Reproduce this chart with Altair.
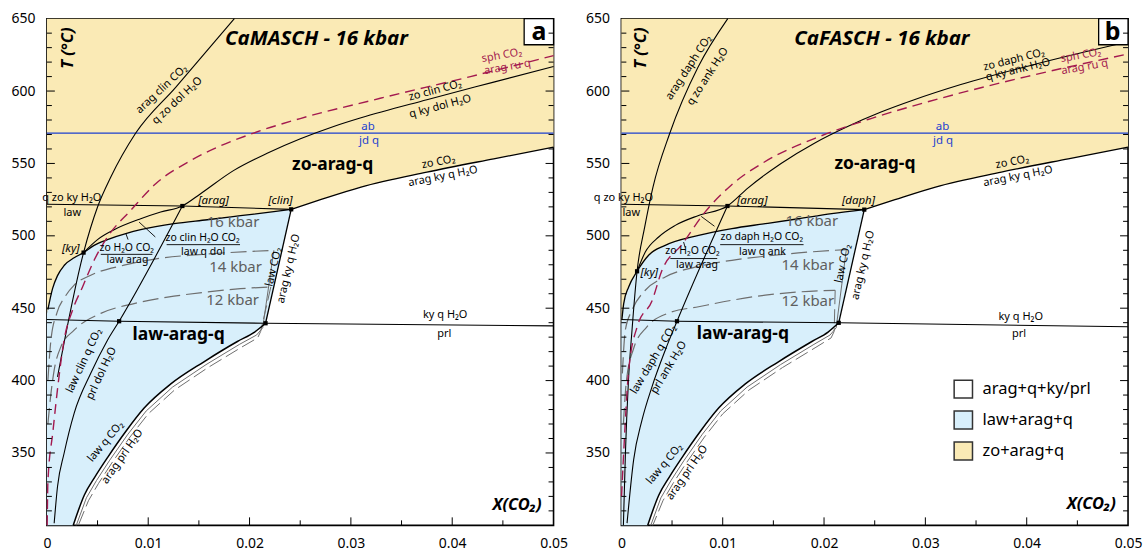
import altair as alt
import pandas as pd

FONT = "Noto Sans"
YEL = "#FAEAB5"
BLU = "#D8EFFB"
RED = "#A3194F"
ABL = "#1B3FD0"
GRY = "#6E6E6E"
W = 508
H = 508

X_DOM = [0, 0.05]
T_DOM = [300, 650]
X_LABELS = [0, 0.01, 0.02, 0.03, 0.04, 0.05]
T_LABELS = [350, 400, 450, 500, 550, 600, 650]
X_TICK_MAJOR = [0.01, 0.02, 0.03, 0.04]
X_TICK_MINOR = [0.005, 0.015, 0.025, 0.035, 0.045]
T_TICK_MAJOR = [350, 400, 450, 500, 550, 600]
T_TICK_MINOR = [310, 320, 330, 340, 360, 370, 380, 390, 410, 420, 430, 440, 460, 470, 480, 490,
                510, 520, 530, 540, 560, 570, 580, 590, 610, 620, 630, 640]

# ---------------- panel a : CaMASCH ----------------
A_B16_X = [0.0001, 0.00056, 0.00105, 0.0017, 0.00269, 0.00362, 0.00466, 0.00598, 0.00795, 0.00926,
           0.01254, 0.01583, 0.01911, 0.0224, 0.02411]
A_B16_T = [449, 463.5, 472.5, 479.5, 484.8, 488.4, 493.4, 497.4, 501.9, 504.2, 508.4, 511.1, 513.9, 516.7, 518.3]
A_UP_X = [0.02411, 0.027, 0.031, 0.0375, 0.0441, 0.05]
A_UP_T = [518.3, 525, 533.7, 544, 553.2, 561.2]
A_ZO_X = [0.00362, 0.005, 0.00663, 0.00926, 0.01123, 0.01337, 0.01517, 0.01845, 0.02174, 0.02502,
          0.0283, 0.031, 0.0375, 0.044, 0.05]
A_ZO_T = [488.4, 497.4, 504.2, 511.8, 516.4, 520.6, 529.1, 545.2, 557, 567, 575.5, 581.5, 594, 606, 617]
A_ST_X = [0.00105, 0.00362, 0.005, 0.00631, 0.00877, 0.01271, 0.0185]
A_ST_T = [402.6, 488.4, 519.9, 540.6, 571, 602.6, 650]
A_HZ_X = [0, 0.01337, 0.02411]
A_HZ_T = [521.8, 520.6, 518.3]
A_PRL_X = [0, 0.00713, 0.02158, 0.05]
A_PRL_T = [442.2, 441, 439.6, 437.8]
A_RT_X = [0.02158, 0.02411]
A_RT_T = [439.6, 518.3]
A_LO_X = [0.0026, 0.0037, 0.0047, 0.006, 0.0078, 0.0096, 0.0122, 0.0155, 0.0188, 0.0205, 0.02158]
A_LO_T = [300, 321, 333, 347, 365, 381, 397.5, 413, 427, 433.5, 439.6]
A_LC_X = [0.00072, 0.00105, 0.0017, 0.00269, 0.00433, 0.00598, 0.00713, 0.01337]
A_LC_T = [301.5, 326.8, 349.8, 377.4, 405, 427.9, 441, 520.6]
A_RED_X = [0.00003, 0.0001, 0.0006, 0.00115, 0.0017, 0.00253, 0.00352, 0.00466, 0.00598, 0.00828,
           0.01074, 0.0142, 0.0204, 0.025, 0.0329, 0.0418, 0.05]
A_RED_T = [300, 330, 365, 400, 428, 448.6, 464.7, 483.1, 499.2, 517.6, 536, 552, 571, 581, 595, 610, 624.5]
A_K14_X = [0.0001, 0.0004, 0.001, 0.0018, 0.00269, 0.00433, 0.00762, 0.01091, 0.01419, 0.01747, 0.0224]
A_K14_T = [400, 428, 447, 458, 465.9, 472.8, 479.7, 484.3, 486.6, 488.2, 490]
A_K12_X = [0.0001, 0.0004, 0.00072, 0.00138, 0.00269, 0.00532, 0.0086, 0.01254, 0.01583, 0.01911, 0.0221]
A_K12_T = [370, 391, 407.2, 423.3, 434.8, 446.4, 453.2, 458.3, 461.2, 463.5, 464.7]
A_G14_X = [0.0224, 0.0213, 0.0207, 0.019, 0.0157, 0.0124, 0.0098, 0.008, 0.0062, 0.0049, 0.0039, 0.0029]
A_G14_T = [490, 436.5, 431.5, 425, 411, 395.5, 379, 363, 345, 331, 319, 300]
A_G12_X = [0.0221, 0.0211, 0.0208, 0.0192, 0.0159, 0.0126, 0.01, 0.0082, 0.0064, 0.0051, 0.0041, 0.0031]
A_G12_T = [464.7, 434, 429.5, 423, 409, 393.5, 377, 361, 343, 329, 317, 300]
A_AB_X = [0, 0.05]
A_AB_T = [571, 571]
A_LEAD = [([0.0091, 0.0107], [509.5, 499.2]), ([0.00778, 0.00801], [501.9, 497.4]),
          ([0.00532, 0.01041], [487.2, 487.2]), ([0.01182, 0.01906], [493.9, 493.9])]
A_PTS_X = [0.00362, 0.01337, 0.02411, 0.00713, 0.02158]
A_PTS_T = [488.4, 520.6, 518.3, 441, 439.6]

A_RX = [("arag clin CO₂", 0.01133, 601.2, 317), ("q zo dol H₂O", 0.01288, 593.3, 317),
        ("zo clin CO₂", 0.03833, 600.3, 345), ("q ky dol H₂O", 0.03882, 589.3, 345),
        ("zo CO₂", 0.03865, 550.9, 349), ("arag ky q H₂O", 0.03909, 541, 349),
        ("q zo ky H₂O", 0.00246, 526.2, 0), ("law", 0.0025, 515.9, 0),
        ("ky q H₂O", 0.03931, 445.2, 0), ("prl", 0.03921, 432.1, 0),
        ("law CO₂", 0.0224, 478.5, 283), ("arag ky q H₂O", 0.02387, 477.4, 283),
        ("law clin q CO₂", 0.00368, 413.7, 295), ("prl dol H₂O", 0.0054, 405.0, 295),
        ("law q CO₂", 0.00581, 357.8, 310), ("arag prl H₂O", 0.00746, 347.5, 305)]
A_FR = [("zo H₂O CO₂", 0.00788, 491.8, 0), ("law arag", 0.00795, 483.0, 0),
        ("zo clin H₂O CO₂", 0.01537, 498.8, 0), ("law q dol", 0.01542, 488.8, 0)]
A_RED_LAB = [("sph CO₂", 0.0449, 624.5, 350), ("arag ru q", 0.04545, 616.4, 350)]
A_BLUE_LAB = [("ab", 0.0317, 575.5, 0), ("jd q", 0.0318, 565.2, 0)]
A_IT_LAB = [("[arag]", 0.01645, 523.8, 0), ("[clin]", 0.02305, 523.8, 0), ("[ky]", 0.00236, 490.7, 0)]
A_KB_LAB = [("16 kbar", 0.01837, 509.6, 0), ("14 kbar", 0.01862, 478.6, 0), ("12 kbar", 0.01833, 455.5, 0)]
A_FLD_LAB = [("zo-arag-q", 0.0282, 548.6, 0), ("law-arag-q", 0.013, 431.4, 0)]
A_TITLE = [("CaMASCH - 16 kbar", 0.0266, 636.2, 0)]
A_AXT = [("T (°C)", 0.00204, 629.7, 270), ("X(CO₂)", 0.0464, 314, 0)]
A_LET = [("a", 0.04855, 641, 0)]

# ---------------- panel b : CaFASCH ----------------
B_B16_X = [0.00005, 0.00023, 0.00072, 0.00155, 0.00269, 0.00433, 0.00762, 0.01091, 0.0142, 0.01747,
           0.02076, 0.02397]
B_B16_T = [442, 453.2, 464.7, 475.5, 486.6, 493.4, 500.3, 505, 508.4, 511.8, 515.3, 518.1]
B_UP_X = [0.02397, 0.027, 0.031, 0.0375, 0.0441, 0.05]
B_UP_T = [518.1, 525, 533.7, 544, 553.2, 561.2]
B_ZO_X = [0.00155, 0.00236, 0.00368, 0.00532, 0.00762, 0.01047, 0.01248, 0.01576, 0.01905, 0.02233,
          0.02562, 0.0289, 0.0335, 0.0414, 0.05]
B_ZO_T = [475.5, 488.8, 499.2, 507.2, 514.1, 520.6, 533, 550, 564, 575.5, 585.5, 594, 604.5, 619.5, 634]
B_ST_X = [0.0002, 0.0004, 0.0007, 0.00105, 0.00155, 0.0023, 0.00312, 0.00476, 0.00756, 0.0105]
B_ST_T = [300, 350, 400, 434.8, 475.5, 506, 533.7, 570.5, 616.4, 650]
B_HZ_X = [0, 0.01047, 0.02397]
B_HZ_T = [521.8, 520.6, 518.1]
B_PRL_X = [0, 0.00549, 0.02145, 0.05]
B_PRL_T = [442.2, 441, 439.9, 437.2]
B_RT_X = [0.02145, 0.02397]
B_RT_T = [439.9, 518.1]
B_LO_X = [0.0026, 0.0037, 0.0047, 0.006, 0.0078, 0.0096, 0.0122, 0.0155, 0.0188, 0.0204, 0.02145]
B_LO_T = [300, 321, 333, 347, 365, 381, 397.5, 413, 427, 433.5, 439.9]
B_LD_X = [0.00056, 0.00121, 0.00204, 0.00302, 0.00433, 0.00549, 0.01047]
B_LD_T = [301.5, 345.2, 372.8, 395.7, 421, 441, 520.6]
B_RED_X = [0.00002, 0.0003, 0.00072, 0.0016, 0.00302, 0.004, 0.00598, 0.00821, 0.01084, 0.01412, 0.0197,
           0.02463, 0.0315, 0.04, 0.05]
B_RED_T = [320, 360, 407, 438, 455, 476, 494, 516, 535, 551, 569, 581, 595, 610, 625.6]
B_K14_X = [0.0001, 0.00039, 0.00105, 0.00236, 0.00433, 0.00762, 0.01091, 0.01419, 0.01747, 0.0222]
B_K14_T = [405, 434.8, 448.6, 462.4, 471.6, 478.9, 483.1, 485.9, 488.2, 490.5]
B_K12_X = [0.0002, 0.0005, 0.0012, 0.0025, 0.0048, 0.00762, 0.01091, 0.0142, 0.01747, 0.0211]
B_K12_T = [370, 400, 422, 437, 447, 451, 455.5, 459, 461.2, 462.4]
B_G14_X = [0.0222, 0.0212, 0.0206, 0.019, 0.0157, 0.0124, 0.0098, 0.008, 0.0062, 0.0049, 0.0039, 0.0029]
B_G14_T = [490.5, 436.5, 431.5, 425, 411, 395.5, 379, 363, 345, 331, 319, 300]
B_G12_X = [0.0211, 0.021, 0.0207, 0.0192, 0.0159, 0.0126, 0.01, 0.0082, 0.0064, 0.0051, 0.0041, 0.0031]
B_G12_T = [462.4, 434, 429.5, 423, 409, 393.5, 377, 361, 343, 329, 317, 300]
B_AB_X = [0, 0.05]
B_AB_T = [571, 571]
B_LEAD = [([0.00788, 0.00919], [513.4, 506.6]), ([0.00614, 0.0063], [495.7, 491.9]),
          ([0.00483, 0.00946], [484.3, 484.3]), ([0.00975, 0.01798], [493.9, 493.9])]
B_PTS_X = [0.00155, 0.01047, 0.02397, 0.00549, 0.02145]
B_PTS_T = [475.5, 520.6, 518.1, 441, 439.9]

B_RX = [("arag daph CO₂", 0.00666, 616.2, 303), ("q zo ank H₂O", 0.00852, 610.0, 303),
        ("zo daph CO₂", 0.03875, 621.5, 346), ("q ky ank H₂O", 0.03914, 614.6, 346),
        ("zo CO₂", 0.03858, 550.9, 349), ("arag ky q H₂O", 0.03914, 541, 349),
        ("q zo ky H₂O", 0.0002, 526.2, 0), ("law", 0.00098, 515.9, 0),
        ("law CO₂", 0.0219, 480.8, 283), ("arag ky q H₂O", 0.02387, 479.7, 283),
        ("ky q H₂O", 0.03941, 444, 0), ("prl", 0.03924, 432.1, 0),
        ("law daph q CO₂", 0.00318, 414.6, 301), ("prl ank H₂O", 0.00468, 409.0, 301),
        ("law q CO₂", 0.00427, 342.4, 310), ("arag prl H₂O", 0.0065, 336.4, 305)]
B_FR = [("zo H₂O CO₂", 0.00702, 489.4, 0), ("law arag", 0.00746, 479.6, 0),
        ("zo daph H₂O CO₂", 0.01386, 499.0, 0), ("law q ank", 0.01392, 488.6, 0)]
B_RED_LAB = [("sph CO₂", 0.04535, 624.5, 350), ("arag ru q", 0.04571, 616.4, 350)]
B_BLUE_LAB = [("ab", 0.03169, 575.5, 0), ("jd q", 0.03175, 565.4, 0)]
B_IT_LAB = [("[arag]", 0.01291, 523.8, 0), ("[daph]", 0.0234, 523.8, 0), ("[ky]", 0.00276, 474.5, 0)]
B_KB_LAB = [("16 kbar", 0.01879, 510.4, 0), ("14 kbar", 0.0184, 479.9, 0), ("12 kbar", 0.0184, 455, 0)]
B_FLD_LAB = [("zo-arag-q", 0.02502, 549.3, 0), ("law-arag-q", 0.01199, 432.5, 0)]
B_TITLE = [("CaFASCH - 16 kbar", 0.02571, 636.2, 0)]
B_AXT = [("T (°C)", 0.00197, 629.7, 270), ("X(CO₂)", 0.04637, 314.8, 0)]
B_LET = [("b", 0.04849, 641, 0)]

LEG_TEXT = ["arag+q+ky/prl", "law+arag+q", "zo+arag+q"]
LEG_FILL = ["#FFFFFF", BLU, YEL]
LEG_T = [394.1, 372.8, 351.4]
LEG_X0, LEG_X1, LEG_XT = 0.03284, 0.03465, 0.03564
LEG_HALF = 6.2

X_AXIS = alt.Axis(values=X_LABELS, labelExpr="datum.value == 0 ? '0' : format(datum.value, '.2f')",
                  ticks=False, domain=False, grid=False, title=None, labelFontSize=14, labelFont=FONT,
                  labelColor="#000000", labelPadding=11, labelFlush=False)
Y_AXIS = alt.Axis(values=T_LABELS, ticks=False, domain=False, grid=False, title=None, labelFontSize=14,
                  labelFont=FONT, labelColor="#000000", labelPadding=12, labelFlush=False)
XS = alt.Scale(domain=X_DOM, nice=False, zero=False)
TS = alt.Scale(domain=T_DOM, nice=False, zero=False)


def ex(f="x"):
    return alt.X(f + ":Q", scale=XS, axis=X_AXIS)


def ey(f="T"):
    return alt.Y(f + ":Q", scale=TS, axis=Y_AXIS)


def cdf(xs, ts):
    return pd.DataFrame({"x": xs, "T": ts, "i": list(range(len(xs)))})


def line(xs, ts, color="#000000", width=1.1, dash=None, interp="linear"):
    kw = dict(color=color, strokeWidth=width, interpolate=interp)
    if dash:
        kw["strokeDash"] = dash
    return alt.Chart(cdf(xs, ts)).mark_line(**kw).encode(x=ex(), y=ey(), order="i:Q")


def poly(xs, ts, fill):
    return alt.Chart(cdf(xs, ts)).mark_line(fill=fill, strokeOpacity=0, interpolate="linear").encode(
        x=ex(), y=ey(), order="i:Q")


def texts(rows, size, color="#000000", weight="normal", style="normal", align="center"):
    df = pd.DataFrame(rows, columns=["text", "x", "T", "angle"])
    return alt.Chart(df).mark_text(font=FONT, fontSize=size, color=color, fontWeight=weight,
                                   fontStyle=style, align=align, baseline="middle").encode(
        x=ex(), y=ey(), text="text:N", angle=alt.Angle("angle:Q", scale=None))


def ticks():
    ymaj = pd.DataFrame({"T": T_TICK_MAJOR})
    ymin = pd.DataFrame({"T": T_TICK_MINOR})
    xmaj = pd.DataFrame({"x": X_TICK_MAJOR})
    xmin = pd.DataFrame({"x": X_TICK_MINOR})
    out = []
    for df, ln in ((ymaj, 8), (ymin, 5)):
        out.append(alt.Chart(df).mark_rule(color="#000000", strokeWidth=1).encode(
            y=ey(), x=alt.value(0), x2=alt.value(ln)))
        out.append(alt.Chart(df).mark_rule(color="#000000", strokeWidth=1).encode(
            y=ey(), x=alt.value(W - ln), x2=alt.value(W)))
    for df, ln in ((xmaj, 8), (xmin, 5)):
        out.append(alt.Chart(df).mark_rule(color="#000000", strokeWidth=1).encode(
            x=ex(), y=alt.value(H - ln), y2=alt.value(H)))
    return out


def panel(d, legend=False):
    yel_x = [0] + d["b16x"] + d["upx"][1:] + [0.05, 0]
    yel_t = [d["b16t"][0] - 3] + d["b16t"] + d["upt"][1:] + [650, 650]
    blu_x = [0] + d["b16x"] + d["rtx"][::-1][1:] + d["lox"][::-1][1:] + [0]
    blu_t = [d["b16t"][0] - 3] + d["b16t"] + d["rtt"][::-1][1:] + d["lot"][::-1][1:] + [300]
    layers = [poly(yel_x, yel_t, YEL), poly(blu_x, blu_t, BLU)]
    layers += [
        line(d["k14x"], d["k14t"], GRY, 1.2, [16, 6], "monotone"),
        line(d["k12x"], d["k12t"], GRY, 1.2, [16, 6], "monotone"),
        line(d["g14x"], d["g14t"], GRY, 1.0, None, "linear"),
        line(d["g12x"], d["g12t"], GRY, 1.0, [14, 5], "linear"),
        line(d["abx"], d["abt"], ABL, 1.2),
        line(d["b16x"], d["b16t"], "#000000", 1.3, None, "monotone"),
        line(d["upx"], d["upt"], "#000000", 1.3, None, "monotone"),
        line(d["zox"], d["zot"], "#000000", 1.1, None, "monotone"),
        line(d["stx"], d["stt"], "#000000", 1.1, None, "monotone"),
        line(d["hzx"], d["hzt"], "#000000", 1.1),
        line(d["prlx"], d["prlt"], "#000000", 1.1),
        line(d["rtx"], d["rtt"], "#000000", 1.3),
        line(d["lox"], d["lot"], "#000000", 1.5, None, "monotone"),
        line(d["lcx"], d["lct"], "#000000", 1.1, None, "monotone"),
        line(d["redx"], d["redt"], RED, 1.4, [10, 6], "monotone"),
    ]
    for lx, lt in d["lead"]:
        layers.append(line(lx, lt, "#000000", 0.9))
    layers.append(alt.Chart(cdf(d["ptx"], d["ptt"])).mark_square(size=18, color="#000000", opacity=1).encode(
        x=ex(), y=ey()))
    layers += [
        texts(d["rx"], 11),
        texts(d["fr"], 10.5),
        texts(d["redlab"], 11, RED),
        texts(d["bluelab"], 11.5, ABL),
        texts(d["itlab"], 11.5, style="italic"),
        texts(d["kblab"], 15, "#5F5F5F"),
        texts(d["fldlab"], 17.5, weight="bold"),
        texts(d["title"], 20.5, weight="bold", style="italic"),
        texts(d["axt"], 16.5, weight="bold", style="italic"),
    ]
    box = pd.DataFrame({"x": [0.0471], "x2": [0.05], "T": [632], "T2": [650]})
    layers.append(alt.Chart(box).mark_rect(fill="#FFFFFF", stroke="#000000", strokeWidth=1.3).encode(
        x=ex(), x2="x2:Q", y=ey(), y2="T2:Q"))
    layers.append(texts(d["let"], 25, weight="bold"))
    if legend:
        lg = pd.DataFrame({"x": [LEG_X0] * 3, "x2": [LEG_X1] * 3,
                           "T": [t - LEG_HALF for t in LEG_T], "T2": [t + LEG_HALF for t in LEG_T],
                           "fill": LEG_FILL})
        layers.append(alt.Chart(lg).mark_rect(stroke="#333333", strokeWidth=1.5).encode(
            x=ex(), x2="x2:Q", y=ey(), y2="T2:Q", fill=alt.Fill("fill:N", scale=None)))
        layers.append(texts([(t, LEG_XT, v, 0) for t, v in zip(LEG_TEXT, LEG_T)], 16.5, align="left"))
    layers += ticks()
    return alt.layer(*layers).properties(width=W, height=H)


PA = dict(b16x=A_B16_X, b16t=A_B16_T, upx=A_UP_X, upt=A_UP_T, zox=A_ZO_X, zot=A_ZO_T, stx=A_ST_X, stt=A_ST_T,
          hzx=A_HZ_X, hzt=A_HZ_T, prlx=A_PRL_X, prlt=A_PRL_T, rtx=A_RT_X, rtt=A_RT_T, lox=A_LO_X, lot=A_LO_T,
          lcx=A_LC_X, lct=A_LC_T, redx=A_RED_X, redt=A_RED_T, k14x=A_K14_X, k14t=A_K14_T, k12x=A_K12_X,
          k12t=A_K12_T, g14x=A_G14_X, g14t=A_G14_T, g12x=A_G12_X, g12t=A_G12_T, abx=A_AB_X, abt=A_AB_T,
          lead=A_LEAD, ptx=A_PTS_X, ptt=A_PTS_T, rx=A_RX, fr=A_FR, redlab=A_RED_LAB, bluelab=A_BLUE_LAB,
          itlab=A_IT_LAB, kblab=A_KB_LAB, fldlab=A_FLD_LAB, title=A_TITLE, axt=A_AXT, let=A_LET)
PB = dict(b16x=B_B16_X, b16t=B_B16_T, upx=B_UP_X, upt=B_UP_T, zox=B_ZO_X, zot=B_ZO_T, stx=B_ST_X, stt=B_ST_T,
          hzx=B_HZ_X, hzt=B_HZ_T, prlx=B_PRL_X, prlt=B_PRL_T, rtx=B_RT_X, rtt=B_RT_T, lox=B_LO_X, lot=B_LO_T,
          lcx=B_LD_X, lct=B_LD_T, redx=B_RED_X, redt=B_RED_T, k14x=B_K14_X, k14t=B_K14_T, k12x=B_K12_X,
          k12t=B_K12_T, g14x=B_G14_X, g14t=B_G14_T, g12x=B_G12_X, g12t=B_G12_T, abx=B_AB_X, abt=B_AB_T,
          lead=B_LEAD, ptx=B_PTS_X, ptt=B_PTS_T, rx=B_RX, fr=B_FR, redlab=B_RED_LAB, bluelab=B_BLUE_LAB,
          itlab=B_IT_LAB, kblab=B_KB_LAB, fldlab=B_FLD_LAB, title=B_TITLE, axt=B_AXT, let=B_LET)

chart = alt.hconcat(panel(PA), panel(PB, legend=True), spacing=16).configure(
    padding={"left": 10, "top": 10, "right": 0, "bottom": 0}, background="#FFFFFF"
).configure_view(stroke="#000000", strokeWidth=1.6)

chart.save("out.html", embed_options={"renderer": "svg", "actions": False})
